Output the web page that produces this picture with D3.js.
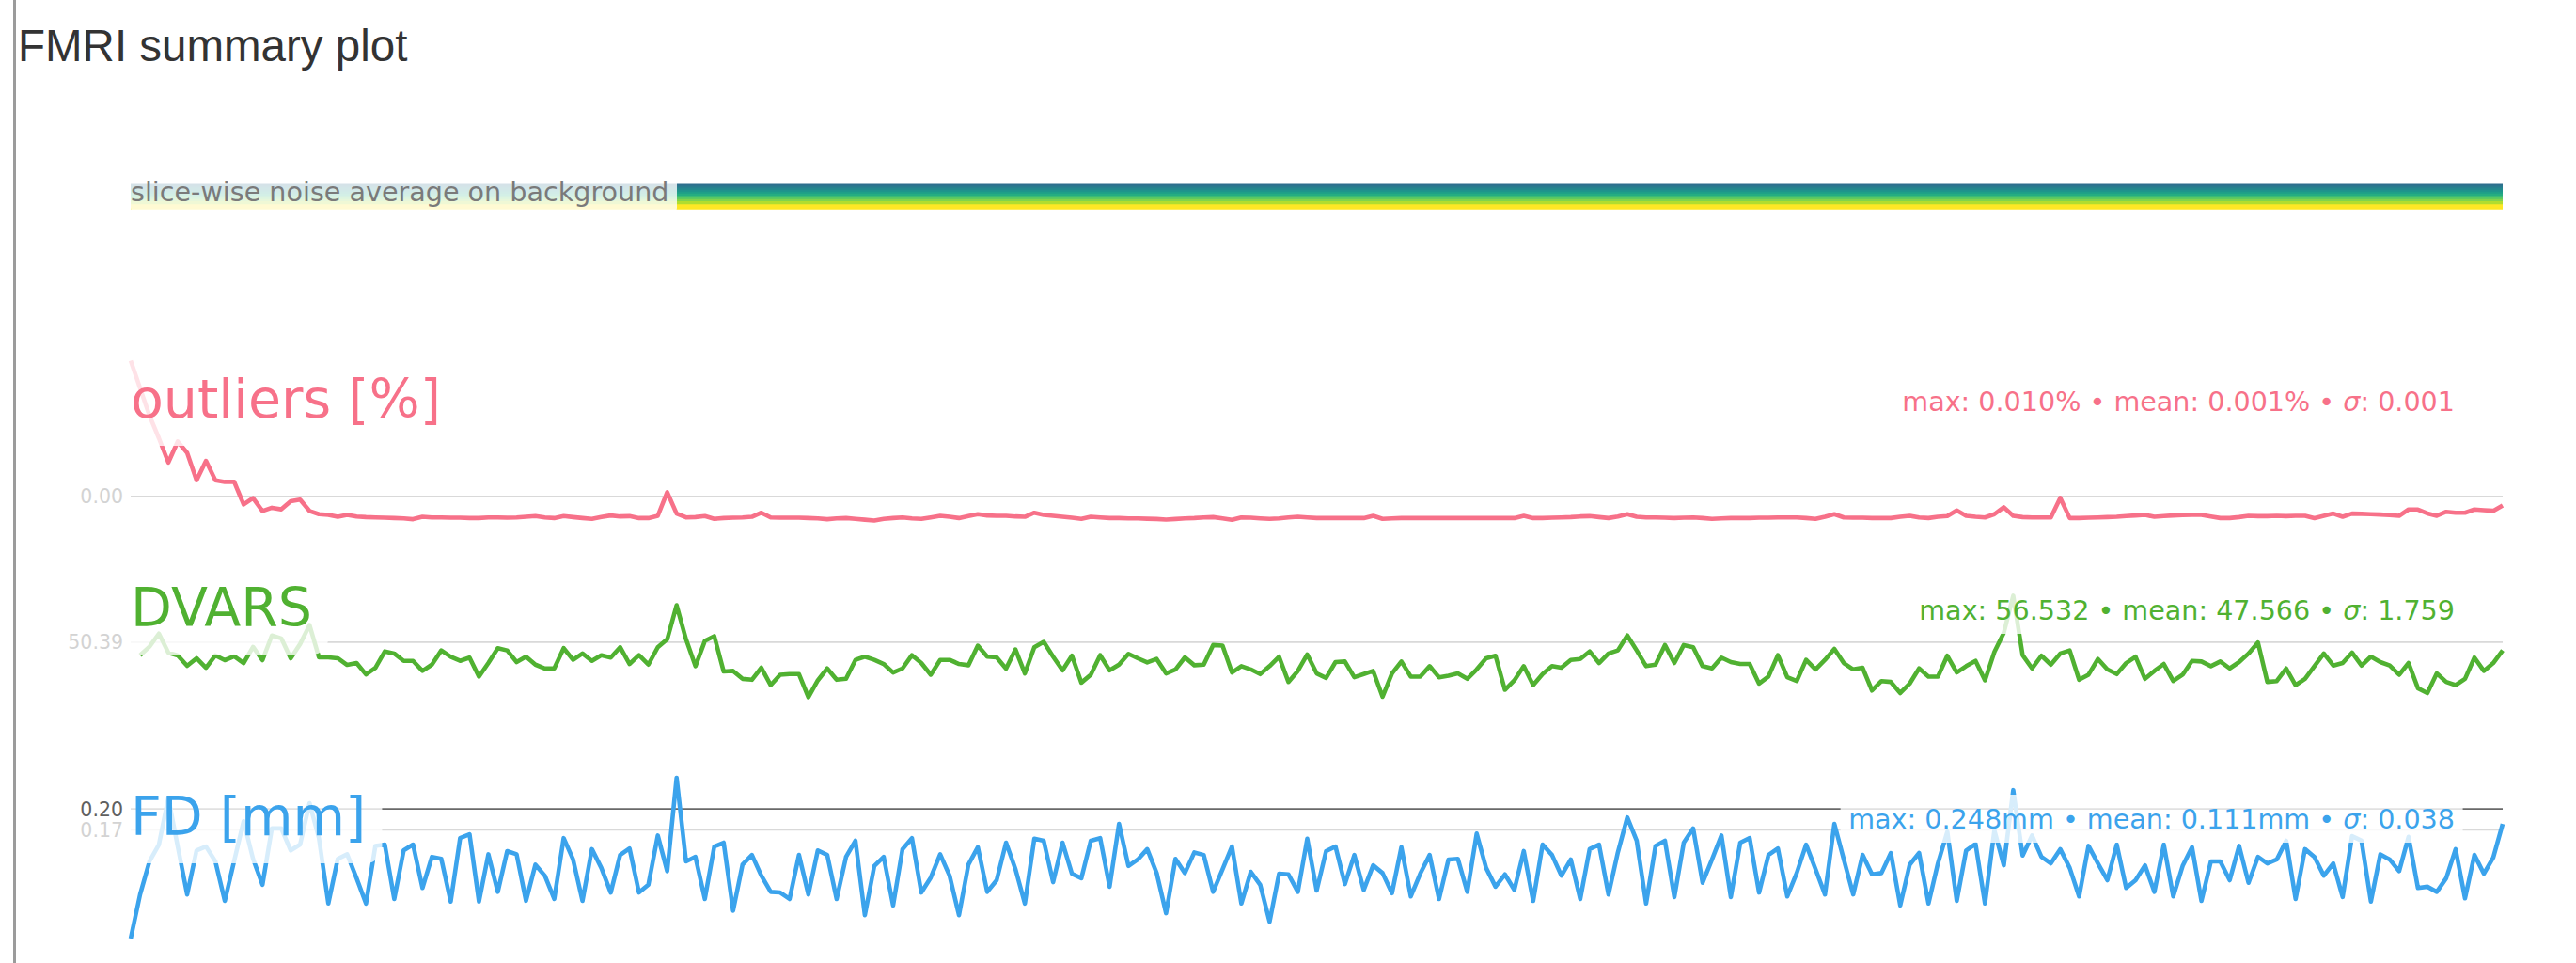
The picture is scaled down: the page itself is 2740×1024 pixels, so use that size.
<!DOCTYPE html>
<html>
<head>
<meta charset="utf-8">
<script src="https://cdn.jsdelivr.net/npm/d3@7"></script>
<style>
html,body{margin:0;padding:0;background:#fff;}
svg{display:block;}
</style>
</head>
<body>
<svg id="chart" width="2740" height="1024"></svg>
<script>
// ---------------- DATA ----------------
const chartTitle = "FMRI summary plot";
const panelLabels = ["outliers [%]", "DVARS", "FD [mm]"];
const noiseLabel = "slice-wise noise average on background";
const seriesColors = ["#f77189", "#50b131", "#3ba3ec"];

const statsMax = ["0.010%", "56.532", "0.248mm"];
const statsMean = ["0.001%", "47.566", "0.111mm"];
const statsSigma = ["0.001", "1.759", "0.038"];

// 95th percentile reference lines (tick labels shown with 2 decimals)
const p95Values = [0.0018, 50.39, 0.1677];
const fdCutoff = 0.20;

// slice-wise noise band: per-slice level and viridis position
const noiseSliceLevel = [0.731, 0.720, 0.709, 0.698, 0.687, 0.676, 0.665, 0.654, 0.644, 0.633, 0.612];
const noiseSliceColorT = [0.36, 0.41, 0.46, 0.51, 0.56, 0.62, 0.68, 0.74, 0.81, 0.88, 1.00];

const outliers = [
0.0102,0.0085,0.0068,0.0054,0.0039,0.0052,0.0045,0.0028,0.0040,0.0028,
0.0027,0.0027,0.0013,0.0017,0.0009,0.0011,0.0010,0.0015,0.0016,0.0009,
0.0007,0.00066,0.00054,0.00066,0.00056,0.00052,0.00050,0.00048,0.00046,0.00044,
0.00039,0.00054,0.00050,0.00050,0.00048,0.00048,0.00046,0.00046,0.00050,0.00050,
0.00048,0.00050,0.00054,0.00058,0.00050,0.00046,0.00058,0.00052,0.00046,0.00041,
0.00052,0.00062,0.00056,0.00058,0.00046,0.00046,0.00060,0.00206,0.00074,0.00050,
0.00052,0.00058,0.00041,0.00046,0.00048,0.00050,0.00054,0.00079,0.00050,0.00048,
0.00048,0.00048,0.00046,0.00044,0.00039,0.00044,0.00046,0.00041,0.00036,0.00031,
0.00041,0.00046,0.00050,0.00044,0.00041,0.00050,0.00060,0.00054,0.00046,0.00058,
0.00070,0.00062,0.00060,0.00060,0.00056,0.00054,0.00079,0.00066,0.00060,0.00054,
0.00048,0.00041,0.00054,0.00050,0.00046,0.00046,0.00044,0.00044,0.00042,0.00040,
0.00037,0.00040,0.00044,0.00046,0.00050,0.00052,0.00044,0.00035,0.00050,0.00048,
0.00044,0.00041,0.00044,0.00050,0.00054,0.00050,0.00046,0.00046,0.00046,0.00046,
0.00046,0.00046,0.00060,0.00041,0.00044,0.00046,0.00046,0.00046,0.00046,0.00046,
0.00046,0.00046,0.00046,0.00046,0.00046,0.00046,0.00046,0.00046,0.00060,0.00046,
0.00046,0.00048,0.00050,0.00052,0.00056,0.00058,0.00052,0.00046,0.00056,0.00070,
0.00054,0.00050,0.00050,0.00048,0.00046,0.00048,0.00050,0.00046,0.00041,0.00044,
0.00046,0.00046,0.00046,0.00048,0.00048,0.00050,0.00050,0.00050,0.00046,0.00041,
0.00054,0.00070,0.00050,0.00048,0.00048,0.00046,0.00046,0.00046,0.00054,0.00060,
0.00050,0.00046,0.00054,0.00058,0.00093,0.00060,0.00054,0.00050,0.00070,0.00113,
0.00060,0.00052,0.00050,0.00050,0.00050,0.00171,0.00046,0.00046,0.00048,0.00050,
0.00052,0.00054,0.00058,0.00062,0.00066,0.00054,0.00058,0.00062,0.00064,0.00066,
0.00066,0.00056,0.00046,0.00046,0.00052,0.00060,0.00058,0.00058,0.00060,0.00058,
0.00060,0.00060,0.00046,0.00060,0.00074,0.00054,0.00074,0.00072,0.00070,0.00068,
0.00064,0.00060,0.00099,0.00099,0.00075,0.00060,0.00085,0.00079,0.00079,0.00099,
0.00095,0.00091,0.00124
];

const dvars = [
null,48.67,49.80,51.52,49.00,48.64,47.26,48.26,47.01,48.64,
48.01,48.51,47.63,49.76,48.01,51.27,50.89,48.26,50.14,52.65,
48.39,48.39,48.26,47.38,47.63,46.13,47.01,49.17,48.89,47.92,
47.92,46.59,47.42,49.30,48.47,47.92,48.35,45.84,47.63,49.60,
49.30,47.76,48.47,47.42,46.92,46.92,49.60,48.05,48.89,47.92,
48.67,48.35,49.72,47.51,48.67,47.42,49.72,50.77,55.28,50.77,
47.22,50.55,51.18,46.51,46.59,45.54,45.42,47.01,44.71,46.09,
46.17,46.17,43.12,45.34,46.92,45.42,45.55,48.05,48.47,48.05,
47.51,46.38,46.92,48.67,47.63,46.09,48.05,48.05,47.51,47.34,
49.93,48.47,48.38,46.88,49.43,46.26,49.72,50.43,48.47,46.67,
48.60,45.04,46.09,48.67,46.67,47.42,48.85,48.26,47.72,48.17,
46.26,46.79,48.38,47.34,47.42,50.01,49.93,46.38,47.22,46.79,
46.17,47.22,48.47,45.13,46.59,48.76,46.26,45.67,47.76,47.84,
45.75,46.17,46.59,43.16,46.26,47.84,45.84,45.84,47.22,45.75,
45.97,46.26,45.54,46.79,48.26,48.60,44.09,45.34,47.22,44.71,
46.17,47.22,47.01,48.05,48.17,49.17,47.63,48.89,49.30,51.27,
49.30,47.22,47.42,50.01,47.63,50.01,49.72,47.22,46.92,48.35,
47.76,47.51,47.51,44.91,45.84,48.67,45.75,45.25,48.05,46.79,
48.05,49.51,47.63,46.79,47.01,44.00,45.25,45.13,43.66,44.91,
46.92,45.84,45.84,48.60,46.38,47.22,47.92,45.34,49.10,51.61,
56.532,48.67,46.92,48.60,47.42,48.89,49.30,45.42,46.09,48.17,
46.79,46.17,47.63,48.47,45.54,46.59,47.51,45.25,46.09,47.92,
47.84,47.22,47.84,46.92,47.76,48.89,50.35,45.13,45.25,46.92,
44.71,45.54,47.22,48.89,47.30,47.63,49.01,47.30,48.47,47.76,
47.30,46.09,47.63,44.29,43.66,46.26,45.13,44.71,45.54,48.35,
46.59,47.63,49.30
];

const fd = [
0.000,0.068,0.119,0.145,0.217,0.142,0.068,0.136,0.142,0.119,
0.058,0.120,0.181,0.123,0.083,0.170,0.170,0.136,0.145,0.209,
0.155,0.054,0.123,0.130,0.093,0.054,0.143,0.145,0.061,0.136,
0.145,0.078,0.126,0.123,0.057,0.155,0.161,0.057,0.130,0.072,
0.135,0.130,0.058,0.114,0.097,0.061,0.155,0.122,0.058,0.138,
0.109,0.071,0.129,0.139,0.071,0.083,0.159,0.104,0.248,0.119,
0.126,0.061,0.142,0.148,0.043,0.114,0.129,0.097,0.072,0.071,
0.061,0.129,0.068,0.136,0.129,0.061,0.126,0.151,0.036,0.112,
0.126,0.051,0.138,0.155,0.071,0.094,0.130,0.097,0.036,0.114,
0.141,0.072,0.090,0.148,0.107,0.054,0.154,0.151,0.087,0.148,
0.100,0.093,0.151,0.155,0.080,0.177,0.112,0.122,0.138,0.101,
0.039,0.123,0.101,0.133,0.129,0.072,0.107,0.142,0.054,0.103,
0.083,0.026,0.100,0.099,0.072,0.154,0.074,0.135,0.142,0.084,
0.129,0.075,0.113,0.101,0.070,0.141,0.065,0.100,0.129,0.061,
0.122,0.123,0.072,0.162,0.109,0.080,0.099,0.075,0.135,0.058,
0.145,0.129,0.097,0.122,0.061,0.138,0.145,0.068,0.133,0.187,
0.151,0.054,0.143,0.151,0.064,0.148,0.170,0.086,0.122,0.159,
0.064,0.148,0.155,0.071,0.129,0.139,0.065,0.101,0.145,0.107,
0.068,0.177,0.122,0.068,0.129,0.099,0.101,0.132,0.051,0.114,
0.132,0.054,0.116,0.165,0.058,0.136,0.146,0.054,0.167,0.113,
0.229,0.128,0.159,0.126,0.116,0.138,0.109,0.065,0.143,0.116,
0.090,0.145,0.078,0.090,0.113,0.072,0.145,0.065,0.112,0.141,
0.058,0.119,0.119,0.090,0.143,0.086,0.126,0.116,0.122,0.151,
0.061,0.138,0.126,0.097,0.116,0.064,0.158,0.151,0.057,0.130,
0.122,0.104,0.157,0.078,0.080,0.072,0.093,0.138,0.062,0.129,
0.100,0.125,0.177
];

// ---------------- RENDER ----------------
const svg = d3.select("#chart");
const FONT = "'DejaVu Sans', 'Verdana', sans-serif";
const nVol = fd.length;

svg.append("rect").attr("width", 2740).attr("height", 1024).attr("fill", "#fff");

// left border
svg.append("rect").attr("x", 14).attr("y", 0).attr("width", 3).attr("height", 1024).attr("fill", "#9b9b9b");

// title
svg.append("text")
  .attr("x", 19).attr("y", 65)
  .attr("font-family", "'Liberation Sans', Arial, Helvetica, sans-serif")
  .attr("font-size", 47.5)
  .attr("fill", "#333")
  .text(chartTitle);

const x = d3.scaleLinear().domain([0, nVol - 1]).range([139, 2662]);
const PANEL_H = 188;

function boxedText(g, opts) {
  const t = g.append("text")
    .attr("x", opts.x).attr("y", opts.y)
    .attr("font-family", FONT)
    .attr("font-size", opts.size)
    .attr("fill", opts.color)
    .attr("text-anchor", opts.anchor || "start");
  opts.parts.forEach(p => {
    const ts = t.append("tspan").text(p.s);
    if (p.italic) ts.attr("font-style", "italic");
  });
  const bb = t.node().getBBox();
  const pad = opts.size * 0.3;
  let x0 = bb.x - pad, x1 = bb.x + bb.width + pad;
  if (opts.clipLeft != null) x0 = Math.max(x0, opts.clipLeft);
  g.insert("rect", () => t.node())
    .attr("x", x0).attr("y", bb.y - pad)
    .attr("width", x1 - x0).attr("height", bb.height + 2 * pad)
    .attr("rx", pad).attr("ry", pad)
    .attr("fill", "#fff").attr("fill-opacity", 0.8);
}

// ----- noise panel -----
(function () {
  const top = 147;
  const g = svg.append("g");
  const y = d3.scaleLinear().domain([0, 1]).range([top + PANEL_H, top]);
  const line = d3.line().x(d => x(d[0])).y(d => y(d[1]));
  noiseSliceLevel.forEach((lvl, i) => {
    g.append("path")
      .attr("d", line([[0, lvl], [nVol - 1, lvl]]))
      .attr("fill", "none")
      .attr("stroke", d3.interpolateViridis(noiseSliceColorT[i]))
      .attr("stroke-width", i === noiseSliceLevel.length - 1 ? 5.5 : 4.2);
  });
  boxedText(g, {
    x: 139, y: 214, size: 28.6, color: "#7a7a7a",
    parts: [{ s: noiseLabel }], clipLeft: 139
  });
})();

// ----- confound panels -----
const seriesData = [outliers, dvars, fd];
const panelTops = [366, 588, 810];
const tickLayer = [];

seriesData.forEach((vals, k) => {
  const top = panelTops[k];
  const g = svg.append("g");
  const valid = vals.filter(v => v != null);
  const mn = d3.min(valid), mx = d3.max(valid);
  const y = d3.scaleLinear()
    .domain([mn - 0.1 * Math.abs(mn), 1.1 * mx])
    .range([top + PANEL_H, top]);

  // p95 line
  g.append("line")
    .attr("x1", x(0)).attr("x2", x(nVol - 1))
    .attr("y1", y(p95Values[k])).attr("y2", y(p95Values[k]))
    .attr("stroke", "#d9d9d9").attr("stroke-width", 1.6);
  tickLayer.push({ y: y(p95Values[k]), text: d3.format(".2f")(p95Values[k]), color: "#d3d3d3" });

  // FD cutoff
  if (k === 2) {
    g.append("line")
      .attr("x1", x(0)).attr("x2", x(nVol - 1))
      .attr("y1", y(fdCutoff)).attr("y2", y(fdCutoff))
      .attr("stroke", "#696969").attr("stroke-width", 1.8);
    tickLayer.push({ y: y(fdCutoff), text: d3.format(".2f")(fdCutoff), color: "#606060" });
  }

  // series line
  const line = d3.line()
    .defined(d => d != null)
    .x((d, i) => x(i))
    .y(d => y(d));
  g.append("path")
    .attr("d", line(vals))
    .attr("fill", "none")
    .attr("stroke", seriesColors[k])
    .attr("stroke-width", 4.6)
    .attr("stroke-linejoin", "round");

  // big label
  boxedText(g, {
    x: 139, y: top + 78, size: 57, color: seriesColors[k],
    parts: [{ s: panelLabels[k] }]
  });

  // stats
  boxedText(g, {
    x: 2611, y: top + 70.5, size: 28.6, color: seriesColors[k], anchor: "end",
    parts: [
      { s: "max: " + statsMax[k] + " \u2022 mean: " + statsMean[k] + " \u2022 " },
      { s: "\u03c3", italic: true },
      { s: ": " + statsSigma[k] }
    ]
  });
});

// reference-line tick labels on top
svg.append("g").selectAll("text").data(tickLayer).join("text")
  .attr("x", 131).attr("y", d => d.y + 7.5)
  .attr("text-anchor", "end")
  .attr("font-family", FONT).attr("font-size", 20.5)
  .attr("fill", d => d.color)
  .text(d => d.text);
</script>
</body>
</html>
